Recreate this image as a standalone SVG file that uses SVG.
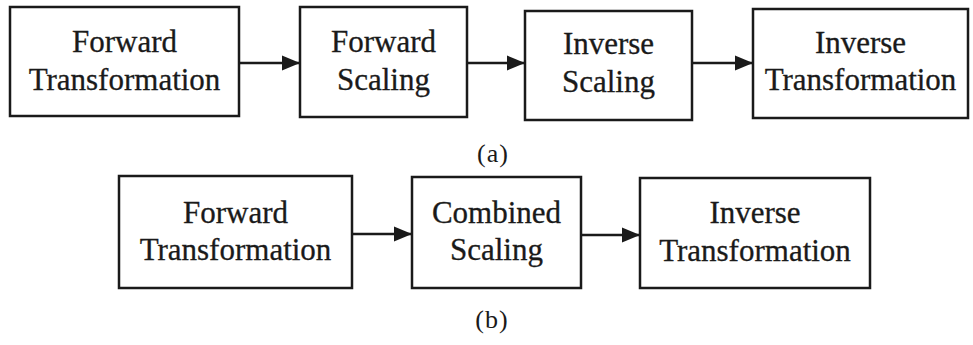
<svg xmlns="http://www.w3.org/2000/svg" width="973" height="345" viewBox="0 0 973 345">
<style>
.box{fill:#fff;stroke:#1a1a1a;stroke-width:2.5}
.lbl{font-family:"Liberation Serif","Times New Roman",serif;font-size:31px;fill:#1a1a1a;stroke:#1a1a1a;stroke-width:0.3;text-anchor:middle}
.cap{font-family:"Liberation Serif","Times New Roman",serif;font-size:26px;fill:#1a1a1a;text-anchor:middle;letter-spacing:1px}
.conn{stroke:#1a1a1a;stroke-width:2.5;fill:none}
</style>
<defs>
<marker id="ah" markerUnits="userSpaceOnUse" markerWidth="19" markerHeight="18" refX="18" refY="9" orient="auto">
<path d="M0,1.5 L18,9 L0,16.5 Z" fill="#1a1a1a"/>
</marker>
</defs>
<rect width="973" height="345" fill="#fff"/>
<g id="a-fwd-transform">
<rect class="box" x="10" y="7" width="229" height="109"/>
<text class="lbl" x="124.5" y="52">Forward</text>
<text class="lbl" x="124.5" y="90">Transformation</text>
</g>
<g id="a-fwd-scaling">
<rect class="box" x="300" y="7" width="167" height="110"/>
<text class="lbl" x="383.5" y="52">Forward</text>
<text class="lbl" x="383.5" y="90">Scaling</text>
</g>
<g id="a-inv-scaling">
<rect class="box" x="525" y="11" width="167" height="109"/>
<text class="lbl" x="608.5" y="54">Inverse</text>
<text class="lbl" x="608.5" y="92">Scaling</text>
</g>
<g id="a-inv-transform">
<rect class="box" x="753" y="9" width="215" height="109"/>
<text class="lbl" x="860.5" y="53">Inverse</text>
<text class="lbl" x="860.5" y="90">Transformation</text>
</g>
<text class="cap" x="493" y="162">(a)</text>
<g id="b-fwd-transform">
<rect class="box" x="119" y="176" width="233" height="112"/>
<text class="lbl" x="235.5" y="223">Forward</text>
<text class="lbl" x="235.5" y="260">Transformation</text>
</g>
<g id="b-comb-scaling">
<rect class="box" x="412" y="177" width="169" height="111"/>
<text class="lbl" x="496.5" y="223">Combined</text>
<text class="lbl" x="496.5" y="260">Scaling</text>
</g>
<g id="b-inv-transform">
<rect class="box" x="640" y="178" width="230" height="110"/>
<text class="lbl" x="755" y="223">Inverse</text>
<text class="lbl" x="755" y="261">Transformation</text>
</g>
<text class="cap" x="492" y="328">(b)</text>
<g id="connectors">
<line class="conn" x1="239" y1="63" x2="300" y2="63" marker-end="url(#ah)"/>
<line class="conn" x1="467" y1="63" x2="525" y2="63" marker-end="url(#ah)"/>
<line class="conn" x1="692" y1="63" x2="753" y2="63" marker-end="url(#ah)"/>
<line class="conn" x1="352" y1="234" x2="412" y2="234" marker-end="url(#ah)"/>
<line class="conn" x1="581" y1="235" x2="640" y2="235" marker-end="url(#ah)"/>
</g>
</svg>
